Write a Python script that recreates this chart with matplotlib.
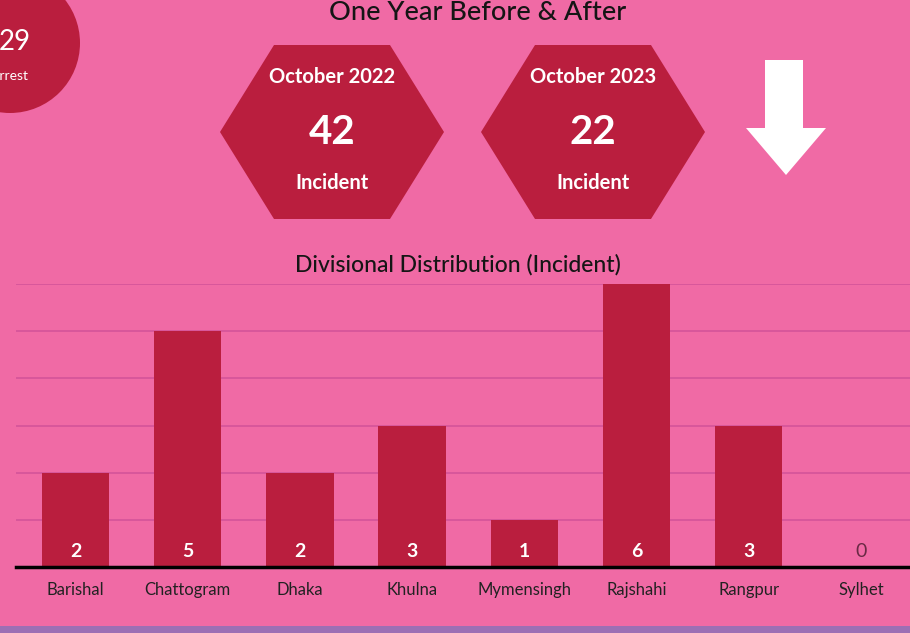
import matplotlib
matplotlib.use("Agg")
import matplotlib.pyplot as plt
from matplotlib.patches import Polygon, Circle, Rectangle

plt.rcParams['font.family'] = ['Lato', 'DejaVu Sans']

# ---- data ----
divisions = ["Barishal", "Chattogram", "Dhaka", "Khulna", "Mymensingh", "Rajshahi", "Rangpur", "Sylhet"]
incidents = [2, 5, 2, 3, 1, 6, 3, 0]
compare_labels = ["October 2022", "October 2023"]
compare_values = [42, 22]
arrest_value = "29"
arrest_label = "Arrest"
title_top = "One Year Before & After"
chart_title = "Divisional Distribution (Incident)"

PINK = "#F06AA5"
RED = "#BA1E3E"
GRID = "#D6559A"
PURPLE = "#9C6FB4"

W, H = 910, 633
fig = plt.figure(figsize=(W / 100, H / 100), dpi=100)
fig.patch.set_facecolor(PINK)

# overlay in pixel coordinates
ov = fig.add_axes([0, 0, 1, 1])
ov.set_xlim(0, W)
ov.set_ylim(H, 0)
ov.axis("off")
ov.set_facecolor("none")

# bottom purple strip
ov.add_patch(Rectangle((0, 626), W, 7, color=PURPLE, lw=0))

# arrest circle (partially cut)
ov.add_patch(Circle((10, 43), 70, color=RED, lw=0))
ov.text(31, 42, arrest_value, color="white", fontsize=20, ha="right", va="center")
ov.text(10, 76, arrest_label, color="white", fontsize=10, ha="center", va="center")

# title
ov.text(478, 13, title_top, color="#151515", fontsize=19.5, fontweight=500,
        ha="center", va="center")

# hexagons
def hexagon(cx, cy, half_w=112, half_top=58, half_h=87):
    return [(cx - half_w, cy), (cx - half_top, cy - half_h), (cx + half_top, cy - half_h),
            (cx + half_w, cy), (cx + half_top, cy + half_h), (cx - half_top, cy + half_h)]

for cx, lab, val in zip([332, 593], compare_labels, compare_values):
    ov.add_patch(Polygon(hexagon(cx, 132), closed=True, color=RED, lw=0))
    ov.text(cx, 77, lab, color="white", fontsize=14.5, fontweight="bold", ha="center", va="center")
    ov.text(cx, 133, str(val), color="white", fontsize=29, fontweight="bold", ha="center", va="center")
    ov.text(cx, 183, "Incident", color="white", fontsize=14.5, fontweight="bold", ha="center", va="center")

# down arrow
ov.add_patch(Polygon([(765, 60), (803, 60), (803, 128), (826, 128), (786, 175),
                      (746, 128), (765, 128)], closed=True, color="white", lw=0))

# chart title
ov.text(458, 265, chart_title, color="#151515", fontsize=16.5, fontweight=500,
        ha="center", va="center")

# ---- bar chart ----
left_px, right_px, top_px, base_px = 16, 910, 284, 567
ax = fig.add_axes([left_px / W, (H - base_px) / H, (right_px - left_px) / W, (base_px - top_px) / H])
ax.set_facecolor("none")
x = list(range(len(divisions)))
ax.bar(x, incidents, width=0.6, color=RED, zorder=3)
c0, step = 75.5, 112.2
ax.set_xlim((left_px - c0) / step, (right_px - c0) / step)
ax.set_ylim(0, 6)
ax.set_yticks(range(1, 7))
ax.yaxis.grid(True, color=GRID, lw=1.3, zorder=0)
ax.set_axisbelow(True)
ax.tick_params(axis="y", left=False, labelleft=False)
ax.set_xticks(x)
ax.set_xticklabels(divisions, fontsize=12, color="#222222")
ax.tick_params(axis="x", length=0, pad=11)
for s in ["left", "right", "top"]:
    ax.spines[s].set_visible(False)
ax.spines["bottom"].set_color("black")
ax.spines["bottom"].set_linewidth(2.5)
ax.spines["bottom"].set_zorder(5)

for xi, v in zip(x, incidents):
    ax.text(xi, 0.32, str(v), color="white" if v > 0 else "#6a2a45",
            fontsize=14, fontweight="bold" if v > 0 else "normal",
            ha="center", va="center", zorder=4)

fig.savefig("out.png", dpi=100, facecolor=PINK)
